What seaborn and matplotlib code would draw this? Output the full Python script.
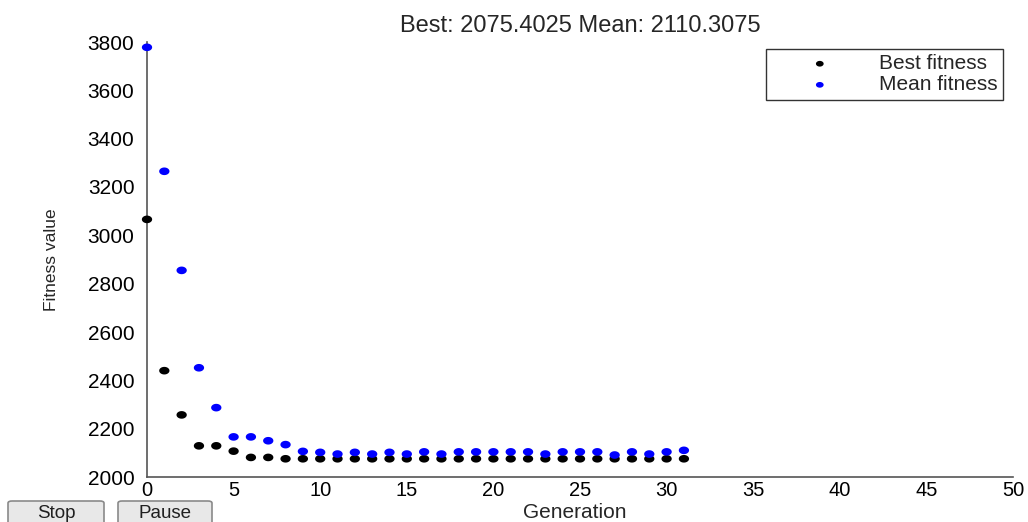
import matplotlib
matplotlib.use("Agg")
import matplotlib.pyplot as plt
import seaborn as sns
import pandas as pd
import numpy as np
from matplotlib.path import Path
from matplotlib.patches import FancyBboxPatch

# ---- data ----
generations = list(range(32))
best_fitness = [3066, 2440, 2257, 2129, 2129, 2107, 2081, 2081, 2075.4, 2075.4,
                2075.4, 2075.4, 2075.4, 2075.4, 2075.4, 2075.4, 2075.4, 2075.4,
                2075.4, 2075.4, 2075.4, 2075.4, 2075.4, 2075.4, 2075.4, 2075.4,
                2075.4, 2075.4, 2075.4, 2075.4, 2075.4, 2075.4]
mean_fitness = [3778, 3265, 2855, 2452, 2287, 2166, 2166, 2150, 2134, 2106,
                2102, 2095, 2102, 2095, 2102, 2095, 2104, 2095, 2104, 2104,
                2104, 2104, 2104, 2095, 2104, 2104, 2104, 2091, 2104, 2095,
                2104, 2110.3]
title_text = "Best: 2075.4025 Mean: 2110.3075"
x_ticks = [0, 5, 10, 15, 20, 25, 30, 35, 40, 45, 50]
y_ticks = [2000, 2200, 2400, 2600, 2800, 3000, 3200, 3400, 3600, 3800]

df = pd.DataFrame({"Generation": generations,
                   "Best": best_fitness,
                   "Mean": mean_fitness})

sns.set_theme(style="white")
plt.rcParams["font.family"] = ["Liberation Sans", "DejaVu Sans"]

# slightly wide elliptical dot marker
t = np.linspace(0, 2 * np.pi, 40)
ell = Path(np.column_stack([1.35 * np.cos(t), np.sin(t)]), closed=True)

W, H = 1028, 522
fig = plt.figure(figsize=(10.28, 5.22), dpi=100)
ax = fig.add_axes([147/W, 1-477/H, (1013-147)/W, (477-42)/H])

sns.scatterplot(data=df, x="Generation", y="Best", ax=ax, color="black",
                s=55, marker=ell, edgecolor="none", label="Best fitness",
                clip_on=False, zorder=3)
sns.scatterplot(data=df, x="Generation", y="Mean", ax=ax, color="#0000ff",
                s=55, marker=ell, edgecolor="none", label="Mean fitness",
                clip_on=False, zorder=3)

ax.set_xlim(0, 50)
ax.set_ylim(2000, 3800)
ax.set_xticks(x_ticks)
ax.set_yticks(y_ticks)
ax.set_xticklabels([str(v) for v in x_ticks], fontsize=14.5)
ax.set_yticklabels([str(v) for v in y_ticks], fontsize=15)
ax.tick_params(direction="in", length=5, width=1, color="#444444",
               labelcolor="black")
ax.tick_params(axis="y", pad=9)
ax.tick_params(axis="x", pad=3)

for side in ["top", "right"]:
    ax.spines[side].set_visible(False)
for side in ["left", "bottom"]:
    ax.spines[side].set_color("#555555")
    ax.spines[side].set_linewidth(1.2)

ax.set_xlabel("Generation", fontsize=15, va="center")
ax.xaxis.set_label_coords(575/W, 1-513/H, transform=fig.transFigure)
ax.set_ylabel("Fitness value", fontsize=12.5, va="center")
ax.yaxis.set_label_coords(52/W, 1-260/H, transform=fig.transFigure)
ax.set_title(title_text, fontsize=17, pad=7)

leg = ax.legend(loc="upper right", bbox_to_anchor=(1003/W, 1-49/H),
                bbox_transform=fig.transFigure, fontsize=15, frameon=True,
                fancybox=False, edgecolor="black", handletextpad=0.5,
                handlelength=4.7, borderpad=0.25, labelspacing=0.1,
                borderaxespad=0, markerscale=0.75)
leg.get_frame().set_linewidth(1.0)

# Buttons
for x0, x1, label in [(8, 104, "Stop"), (118, 212, "Pause")]:
    fig.patches.append(FancyBboxPatch((x0 / W, -0.01), (x1 - x0) / W, 21 / H + 0.01,
                                      boxstyle="round,pad=0,rounding_size=0.004",
                                      transform=fig.transFigure, facecolor="#e8e8e8",
                                      edgecolor="#8a8a8a", linewidth=1.2))
    fig.text((x0 + x1) / 2 / W, 9 / H, label, fontsize=13.5, ha="center",
             va="center", color="#202020")

fig.savefig("out.png", dpi=100)
